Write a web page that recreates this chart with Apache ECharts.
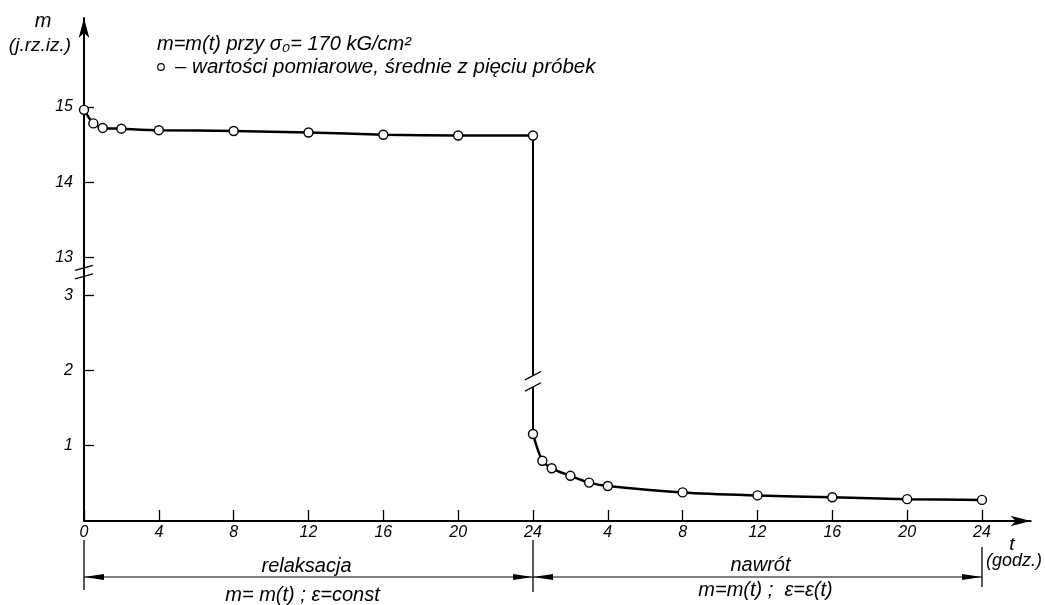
<!DOCTYPE html>
<html><head><meta charset="utf-8">
<script src="https://cdn.jsdelivr.net/npm/echarts@6/dist/echarts.min.js"></script>
<style>html,body{margin:0;padding:0;background:#fff}#c{width:1045px;height:605px}</style>
</head><body><div id="c"></div>
<script>
// ---- data ----
const relaxT = [0, 0.5, 1, 2, 4, 8, 12, 16, 20, 24];           // hours of relaxation
const relaxM = [14.96, 14.78, 14.72, 14.71, 14.69, 14.68, 14.66, 14.63, 14.62, 14.62];
const recovT = [0, 0.5, 1, 2, 3, 4, 8, 12, 16, 20, 24];        // hours of recovery
const recovM = [1.155, 0.80, 0.70, 0.60, 0.51, 0.465, 0.38, 0.34, 0.315, 0.29, 0.28];
const xTickPos = [0, 4, 8, 12, 16, 20, 24, 28, 32, 36, 40, 44, 48];
const xTickLabels = ['0','4','8','12','16','20','24','4','8','12','16','20','24'];
const yTickValues = [1, 2, 3, 13, 14, 15];

// ---- broken y scale ----
const BREAK_SHIFT = 9.5;            // 13 is drawn half a unit above 3
const toDisp = m => (m > 6 ? m - BREAK_SHIFT : m);
const fromDisp = d => (d > 3.25 ? d + BREAK_SHIFT : d);
const X_MAX = 50.6, Y_MAX = 6.68;
const DROP_GAP = [1.78, 1.93];      // gap in the vertical jump line
const AXIS_BREAK = [3.25, 3.36];

const FONT = "'Liberation Sans', 'DejaVu Sans', sans-serif";
const yTickDisp = yTickValues.map(toDisp);

const relaxData = relaxT.map((t, i) => [t, toDisp(relaxM[i])]);
const recovData = recovT.map((t, i) => [t + 24, toDisp(recovM[i])]);
const dropData = [
  [24, toDisp(relaxM[relaxM.length - 1])], [24, DROP_GAP[1]], [24, '-'],
  [24, DROP_GAP[0]], [24, recovM[0]]
];

const chart = echarts.init(document.getElementById('c'));
const markerStyle = { color: '#fff', borderColor: '#000', borderWidth: 1.4 };
chart.setOption({
  animation: false,
  backgroundColor: '#fff',
  grid: { left: 84, top: 18, width: X_MAX * 18.708, height: Y_MAX * 75.3 },
  xAxis: {
    type: 'value', min: 0, max: X_MAX, interval: 4,
    axisLine: { lineStyle: { color: '#000', width: 2 }, symbol: ['none', 'arrow'], symbolSize: [8, 20] },
    axisTick: { inside: true, length: 11, customValues: xTickPos, lineStyle: { color: '#000', width: 1.3 } },
    axisLabel: {
      customValues: xTickPos, margin: 4, color: '#000', fontSize: 16, fontStyle: 'italic', fontFamily: FONT,
      formatter: v => { const i = xTickPos.indexOf(v); return i >= 0 ? xTickLabels[i] : ''; }
    },
    splitLine: { show: false }
  },
  yAxis: {
    type: 'value', min: 0, max: Y_MAX,
    axisLine: { lineStyle: { color: '#000', width: 2 }, symbol: ['none', 'arrow'], symbolSize: [8, 20] },
    axisTick: { inside: true, length: 10, customValues: yTickDisp, lineStyle: { color: '#000', width: 1.3 } },
    axisLabel: {
      customValues: yTickDisp, margin: 11, color: '#000', fontSize: 16, fontStyle: 'italic', fontFamily: FONT,
      formatter: v => String(Math.round(fromDisp(v)))
    },
    splitLine: { show: false }
  },
  series: [
    { type: 'line', data: dropData, showSymbol: false, symbol: 'none', connectNulls: false,
      lineStyle: { color: '#000', width: 2 }, z: 2 },
    { type: 'line', data: relaxData, smooth: 0.25, symbol: 'circle', symbolSize: 9,
      itemStyle: markerStyle, lineStyle: { color: '#000', width: 2.5 }, z: 3 },
    { type: 'line', data: recovData, smooth: 0.3, symbol: 'circle', symbolSize: 9,
      itemStyle: markerStyle, lineStyle: { color: '#000', width: 2.5 }, z: 3 }
  ]
});

// ---- decorations positioned through the chart's own scales ----
const px = (x, y) => chart.convertToPixel({ gridIndex: 0 }, [x, y]);
const g = [];
const line = (x1, y1, x2, y2, w) => g.push({ type: 'line', shape: { x1, y1, x2, y2 }, style: { stroke: '#000', lineWidth: w || 1.3 }, z: 10 });
const text = (t, x, y, size, align) => g.push({ type: 'text', z: 10, style: {
  text: t, x, y, fill: '#000', fontSize: size, fontStyle: 'italic', fontFamily: FONT,
  align: align || 'left', verticalAlign: 'middle' } });
const tri = (pts) => g.push({ type: 'polygon', shape: { points: pts }, style: { fill: '#000' }, z: 10 });

// y-axis break
AXIS_BREAK.forEach(v => { const p = px(0, v); line(p[0] - 9, p[1] + 2.5, p[0] + 9, p[1] - 2.5, 1.3); });
// break in the jump line
DROP_GAP.forEach(v => { const p = px(24, v); line(p[0] - 8, p[1] + 4.2, p[0] + 8, p[1] - 4.2, 1.3); });

// bottom dimension arrows
const p0 = px(0, 0), p24 = px(24, 0), p48 = px(48, 0);
const ay = 577;
line(p0[0], 540, p0[0], 590);
line(p24[0], 540, p24[0], 592);
line(p48[0], 547, p48[0], 587);
line(p0[0], ay, p48[0], ay, 1.2);
tri([[p0[0], ay], [p0[0] + 20, ay - 3], [p0[0] + 20, ay + 3]]);
tri([[p24[0], ay], [p24[0] - 20, ay - 3], [p24[0] - 20, ay + 3]]);
tri([[p24[0], ay], [p24[0] + 20, ay - 3], [p24[0] + 20, ay + 3]]);
tri([[p48[0], ay], [p48[0] - 20, ay - 3], [p48[0] - 20, ay + 3]]);
const m1 = (p0[0] + p24[0]) / 2, m2 = (p24[0] + p48[0]) / 2;
text('relaksacja', m1 - 2, 566, 20, 'center');
text('m= m(t) ; ε=const', m1 - 6, 595, 20, 'center');
text('nawrót', m2 + 3, 565, 20, 'center');
text('m=m(t) ;  ε=ε(t)', m2 + 8, 590, 20, 'center');

// axis titles
text('t', 1012, 545, 19, 'center');
text('(godz.)', 1014, 561, 18, 'center');
text('m', 43, 21, 20, 'center');
text('(j.rz.iz.)', 40, 46, 19, 'center');

// header
text('m=m(t) przy σ₀= 170 kG/cm²', 157, 44, 20, 'left');
g.push({ type: 'circle', shape: { cx: 161, cy: 67, r: 3.3 }, style: { fill: '#fff', stroke: '#000', lineWidth: 1.2 }, z: 10 });
text('– wartości pomiarowe, średnie z pięciu próbek', 175, 67, 20.5, 'left');

chart.setOption({ graphic: g });
</script>
</body></html>
